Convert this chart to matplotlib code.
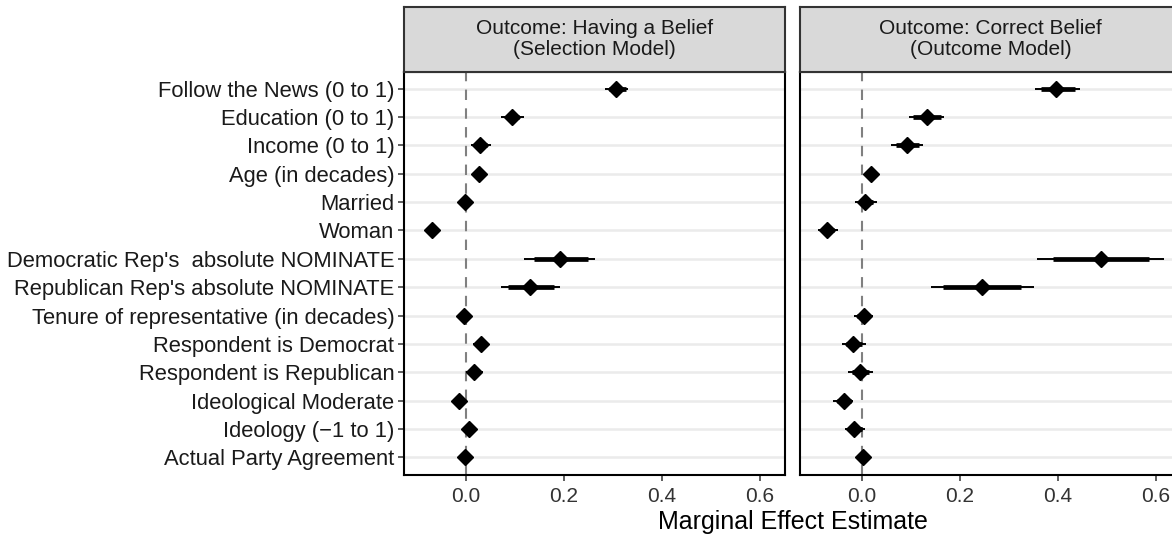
import matplotlib
matplotlib.use("Agg")
import matplotlib.pyplot as plt

plt.rcParams["font.family"] = ["Liberation Sans", "DejaVu Sans"]

# ---- data ----
labels = [
    "Follow the News (0 to 1)",
    "Education (0 to 1)",
    "Income (0 to 1)",
    "Age (in decades)",
    "Married",
    "Woman",
    "Democratic Rep's  absolute NOMINATE",
    "Republican Rep's absolute NOMINATE",
    "Tenure of representative (in decades)",
    "Respondent is Democrat",
    "Respondent is Republican",
    "Ideological Moderate",
    "Ideology (\u22121 to 1)",
    "Actual Party Agreement",
]
panel_titles = ["Outcome: Having a Belief\n(Selection Model)",
                "Outcome: Correct Belief\n(Outcome Model)"]

# selection model
sel_est = [0.306, 0.093, 0.029, 0.026, -0.001, -0.070, 0.192, 0.131,
           -0.005, 0.030, 0.016, -0.015, 0.006, -0.002]
sel_lo95 = [0.283, 0.071, 0.010, 0.019, -0.014, -0.076, 0.119, 0.071,
            -0.011, 0.015, 0.000, -0.027, -0.006, -0.007]
sel_hi95 = [0.331, 0.118, 0.052, 0.033, 0.013, -0.064, 0.264, 0.192,
            0.001, 0.046, 0.034, -0.003, 0.019, 0.003]
sel_lo90 = [0.292, 0.081, 0.019, 0.021, -0.010, -0.074, 0.138, 0.086,
            -0.009, 0.020, 0.006, -0.023, -0.002, -0.005]
sel_hi90 = [0.327, 0.109, 0.043, 0.031, 0.009, -0.066, 0.248, 0.179,
            -0.001, 0.041, 0.028, -0.007, 0.014, 0.001]

# outcome model
out_est = [0.396, 0.132, 0.091, 0.019, 0.006, -0.071, 0.487, 0.245,
           0.004, -0.018, -0.004, -0.036, -0.016, 0.002]
out_lo95 = [0.353, 0.096, 0.060, 0.012, -0.014, -0.090, 0.358, 0.140,
            -0.016, -0.041, -0.028, -0.059, -0.035, -0.004]
out_hi95 = [0.444, 0.168, 0.125, 0.026, 0.030, -0.048, 0.617, 0.352,
            0.022, 0.009, 0.022, -0.018, 0.007, 0.008]
out_lo90 = [0.365, 0.105, 0.069, 0.014, -0.006, -0.082, 0.389, 0.165,
            -0.010, -0.033, -0.020, -0.052, -0.028, -0.002]
out_hi90 = [0.434, 0.161, 0.116, 0.024, 0.022, -0.057, 0.586, 0.325,
            0.016, 0.001, 0.014, -0.022, 0.000, 0.006]

xticks = [0.0, 0.2, 0.4, 0.6]

W, H = 1172, 544
fig = plt.figure(figsize=(W / 100, H / 100), dpi=100)

# panel boxes in pixels (x0, x1), shared vertical extent
px_panels = [(404, 785), (800, 1181)]
py_top, py_bot = 71.5, 474.5
strip_top = 6.5

ypos = list(range(1, len(labels) + 1))
series = [(sel_est, sel_lo95, sel_hi95, sel_lo90, sel_hi90),
          (out_est, out_lo95, out_hi95, out_lo90, out_hi90)]

for i, ((x0, x1), (est, lo95, hi95, lo90, hi90)) in enumerate(zip(px_panels, series)):
    ax = fig.add_axes([x0 / W, 1 - py_bot / H, (x1 - x0) / W, (py_bot - py_top) / H])
    ax.set_xlim(-0.1265, 0.651)
    ax.set_ylim(len(labels) + 0.6, 0.4)
    for y in ypos:
        ax.axhline(y, color="#EBEBEB", lw=1.8, zorder=0)
    ax.axvline(0, color="#808080", lw=1.5, ls=(0, (5, 4)), zorder=1)
    ax.hlines(ypos, lo95, hi95, color="black", lw=1.4, zorder=2)
    ax.hlines(ypos, lo90, hi90, color="black", lw=3.4, zorder=3)
    ax.plot(est, ypos, ls="none", marker="D", ms=8, color="black", zorder=4)

    ax.set_xticks(xticks)
    ax.set_xticklabels([f"{t:.1f}" for t in xticks], fontsize=15, color="#333333")
    ax.set_yticks(ypos)
    if i == 0:
        ax.set_yticklabels(labels, fontsize=15.8, color="#1A1A1A")
        ax.tick_params(axis="y", length=4, width=1.1, color="#333333", pad=3)
    else:
        ax.set_yticklabels([])
        ax.tick_params(axis="y", length=0)
    ax.tick_params(axis="x", length=4, width=1.1, color="#333333", pad=5)
    for s in ax.spines.values():
        s.set_linewidth(1.5)
        s.set_color("black")

    # facet strip
    sx = fig.add_axes([x0 / W, 1 - py_top / H, (x1 - x0) / W, (py_top - strip_top) / H])
    sx.set_xticks([]); sx.set_yticks([])
    sx.set_facecolor("#D9D9D9")
    for s in sx.spines.values():
        s.set_linewidth(1.5)
        s.set_color("#333333")
    sx.text(0.5, 0.5, panel_titles[i], ha="center", va="center", fontsize=15,
            color="#1A1A1A", linespacing=1.1, transform=sx.transAxes)

fig.text((404 + 1181) / 2 / W, 1 - 522 / H, "Marginal Effect Estimate",
         ha="center", va="center", fontsize=18)

fig.savefig("out.png", dpi=100)
